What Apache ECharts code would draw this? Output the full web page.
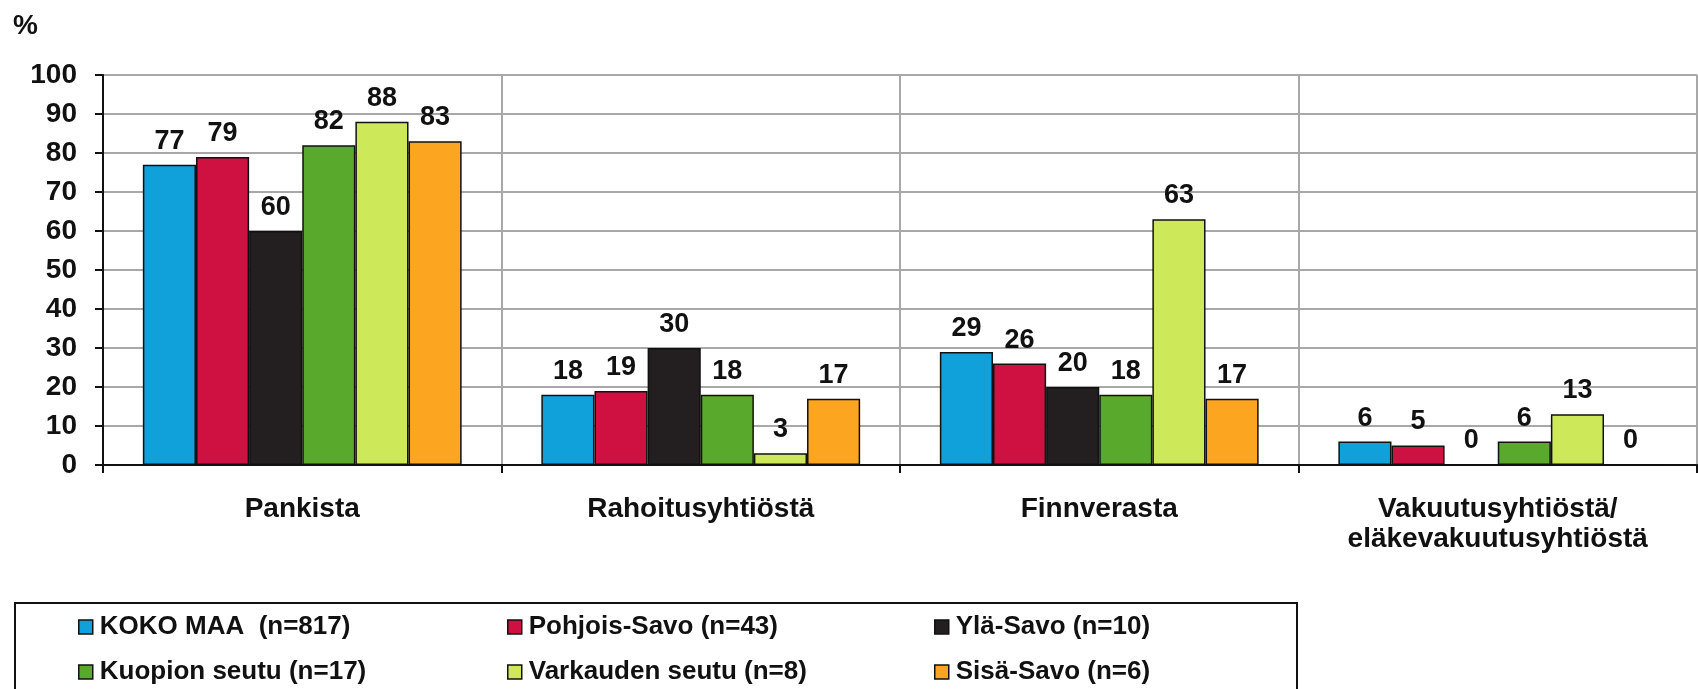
<!DOCTYPE html>
<html>
<head>
<meta charset="utf-8">
<script src="https://cdn.jsdelivr.net/npm/echarts@6/dist/echarts.min.js"></script>
<style>
html,body{margin:0;padding:0;background:#fff;}
#chart{width:1698px;height:689px;}
</style>
</head>
<body>
<div id="chart"></div>
<script>
var categories = ['Pankista', 'Rahoitusyhtiöstä', 'Finnverasta', 'Vakuutusyhtiöstä/\neläkevakuutusyhtiöstä'];
var seriesNames = ['KOKO MAA  (n=817)', 'Pohjois-Savo (n=43)', 'Ylä-Savo (n=10)', 'Kuopion seutu (n=17)', 'Varkauden seutu (n=8)', 'Sisä-Savo (n=6)'];
var kokoMaa = [77, 18, 29, 6];
var pohjoisSavo = [79, 19, 26, 5];
var ylaSavo = [60, 30, 20, 0];
var kuopionSeutu = [82, 18, 18, 6];
var varkaudenSeutu = [88, 3, 63, 13];
var sisaSavo = [83, 17, 17, 0];
var yTicks = [0, 10, 20, 30, 40, 50, 60, 70, 80, 90, 100];
var colors = ['#10A0DA', '#CE1141', '#231F20', '#58A92C', '#CDE95A', '#FBA520'];

var FONT = 'Arial, "Liberation Sans", sans-serif';
var values = [kokoMaa, pohjoisSavo, ylaSavo, kuopionSeutu, varkaudenSeutu, sisaSavo];

var series = seriesNames.map(function (name, i) {
  return {
    name: name,
    type: 'bar',
    data: values[i],
    barGap: '0%',
    barCategoryGap: '20%',
    itemStyle: { color: colors[i], borderColor: '#111', borderWidth: 1.5 },
    label: {
      show: true, position: 'top', distance: 10,
      color: '#111', fontFamily: FONT, fontWeight: 'bold', fontSize: 27
    }
  };
});

var legendPos = [
  [78, 614], [507, 614], [934, 614],
  [78, 659], [507, 659], [934, 659]
];
var legends = seriesNames.map(function (name, i) {
  return {
    data: [name],
    left: legendPos[i][0], top: legendPos[i][1],
    padding: 0,
    itemWidth: 14, itemHeight: 14,
    icon: 'rect',
    itemStyle: { borderColor: '#111', borderWidth: 1.5 },
    textStyle: { fontFamily: FONT, fontWeight: 'bold', fontSize: 26, color: '#111', lineHeight: 26, padding: [0, 0, 0, 2] },
    selectedMode: false
  };
});

var chart = echarts.init(document.getElementById('chart'), null, { renderer: 'canvas' });
chart.setOption({
  animation: false,
  backgroundColor: '#fff',
  color: colors,
  title: {
    text: '%', left: 8, top: 7,
    textStyle: { fontFamily: FONT, fontWeight: 'bold', fontSize: 28, color: '#111' }
  },
  grid: { left: 103, right: 1, top: 75, bottom: 224, containLabel: false },
  legend: legends,
  graphic: [{
    type: 'rect', silent: true, z: -1,
    shape: { x: 15, y: 603, width: 1282, height: 120 },
    style: { fill: 'none', stroke: '#111', lineWidth: 2 }
  }],
  xAxis: {
    type: 'category',
    data: categories,
    axisLine: { lineStyle: { color: '#111', width: 2 } },
    axisTick: { show: true, length: 8, lineStyle: { color: '#111', width: 2 } },
    splitLine: { show: true, lineStyle: { color: '#A8A8A8', width: 2 } },
    axisLabel: {
      margin: 29, interval: 0,
      fontFamily: FONT, fontWeight: 'bold', fontSize: 28, color: '#111', lineHeight: 30
    }
  },
  yAxis: {
    type: 'value', min: yTicks[0], max: yTicks[yTicks.length - 1], interval: 10,
    axisLine: { show: true, lineStyle: { color: '#111', width: 2 } },
    axisTick: { show: true, length: 8, lineStyle: { color: '#111', width: 2 } },
    splitLine: { show: true, lineStyle: { color: '#A8A8A8', width: 2 } },
    axisLabel: {
      margin: 26, fontFamily: FONT, fontWeight: 'bold', fontSize: 28, color: '#111',
      padding: [7, 0, 0, 0]
    }
  },
  series: series
});
</script>
</body>
</html>
